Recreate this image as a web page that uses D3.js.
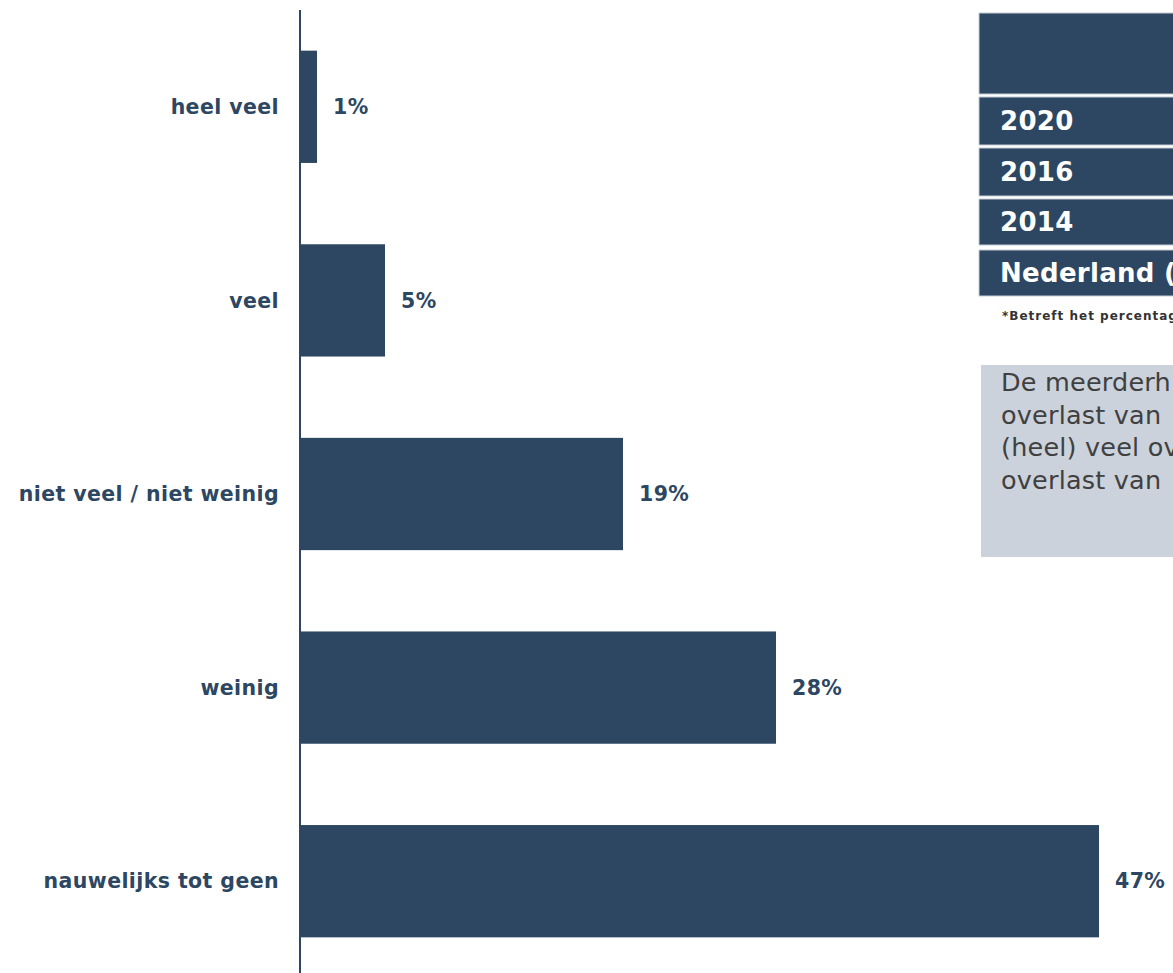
<!DOCTYPE html>
<html>
<head>
<meta charset="utf-8">
<script src="https://cdn.jsdelivr.net/npm/d3@7"></script>
<style>
  html, body { margin: 0; padding: 0; background: #fff; }
  svg { display: block; }
</style>
</head>
<body>
<svg id="chart" width="1173" height="973"></svg>
<script>
// Mate van overlast: aandeel respondenten per categorie
const categories = ["heel veel", "veel", "niet veel / niet weinig", "weinig", "nauwelijks tot geen"];
const values = [1, 5, 19, 28, 47];

// Tabel rechtsboven (rijlabels) en toelichting
const tableRows = ["2020", "2016", "2014", "Nederland ("];
const footnote = "*Betreft het percentage";
const noteLines = ["De meerderh", "overlast van", "(heel) veel ov", "overlast van"];

const navy = "#2d4763";
const font = "DejaVu Sans, Verdana, sans-serif";
const svg = d3.select("#chart");

const x = d3.scaleLinear().domain([0, 50]).range([300, 1150]);
const y = d3.scaleBand().domain(categories).range([10, 978])
  .paddingInner(0.42).paddingOuter(0.21);

// Staven
svg.append("g").selectAll("rect")
  .data(categories)
  .join("rect")
  .attr("x", x(0))
  .attr("y", d => y(d))
  .attr("width", (d, i) => x(values[i]) - x(0))
  .attr("height", y.bandwidth())
  .attr("fill", navy);

// Verticale as
svg.append("line")
  .attr("x1", x(0)).attr("x2", x(0))
  .attr("y1", 10).attr("y2", 973)
  .attr("stroke", navy).attr("stroke-width", 2);

// Categorielabels
svg.append("g").selectAll("text")
  .data(categories)
  .join("text")
  .attr("x", 279)
  .attr("y", d => y(d) + y.bandwidth() / 2)
  .attr("dy", "0.35em")
  .attr("text-anchor", "end")
  .attr("font-family", font)
  .attr("font-weight", "bold")
  .attr("font-size", 20.5)
  .attr("letter-spacing", 0.4)
  .attr("fill", navy)
  .text(d => d);

// Waardelabels
svg.append("g").selectAll("text")
  .data(categories)
  .join("text")
  .attr("x", (d, i) => x(values[i]) + 16)
  .attr("y", d => y(d) + y.bandwidth() / 2)
  .attr("dy", "0.35em")
  .attr("font-family", font)
  .attr("font-weight", "bold")
  .attr("font-size", 20.5)
  .attr("letter-spacing", 0.4)
  .attr("fill", navy)
  .text((d, i) => values[i] + "%");

// Tabel
const tbl = svg.append("g");
tbl.append("rect")
  .attr("x", 979).attr("y", 13).attr("width", 220).attr("height", 81)
  .attr("fill", navy).attr("stroke", "#c5ccd4").attr("stroke-width", 1);
const rowTops = [97, 148, 199, 250];
const rowH = [48, 48, 46, 46];
tableRows.forEach((t, i) => {
  tbl.append("rect")
    .attr("x", 979).attr("y", rowTops[i]).attr("width", 220).attr("height", rowH[i])
    .attr("fill", navy).attr("stroke", "#c5ccd4").attr("stroke-width", 1);
  tbl.append("text")
    .attr("x", 1000)
    .attr("y", rowTops[i] + rowH[i] / 2)
    .attr("dy", "0.36em")
    .attr("font-family", font)
    .attr("font-weight", "bold")
    .attr("font-size", 26)
    .attr("letter-spacing", 0.3)
    .attr("fill", "#ffffff")
    .text(t);
});

tbl.append("text")
  .attr("x", 1002).attr("y", 320)
  .attr("font-family", font)
  .attr("font-weight", "bold")
  .attr("font-size", 12)
  .attr("letter-spacing", 1)
  .attr("fill", "#333333")
  .text(footnote);

// Toelichtingsvak
const note = svg.append("g");
note.append("rect")
  .attr("x", 981).attr("y", 365).attr("width", 220).attr("height", 192)
  .attr("fill", "#cbd2db");
note.selectAll("text")
  .data(noteLines)
  .join("text")
  .attr("x", 1001)
  .attr("y", (d, i) => 391 + i * 32.5)
  .attr("font-family", font)
  .attr("font-size", 25.5)
  .attr("letter-spacing", 0.2)
  .attr("fill", "#404040")
  .text(d => d);
</script>
</body>
</html>
